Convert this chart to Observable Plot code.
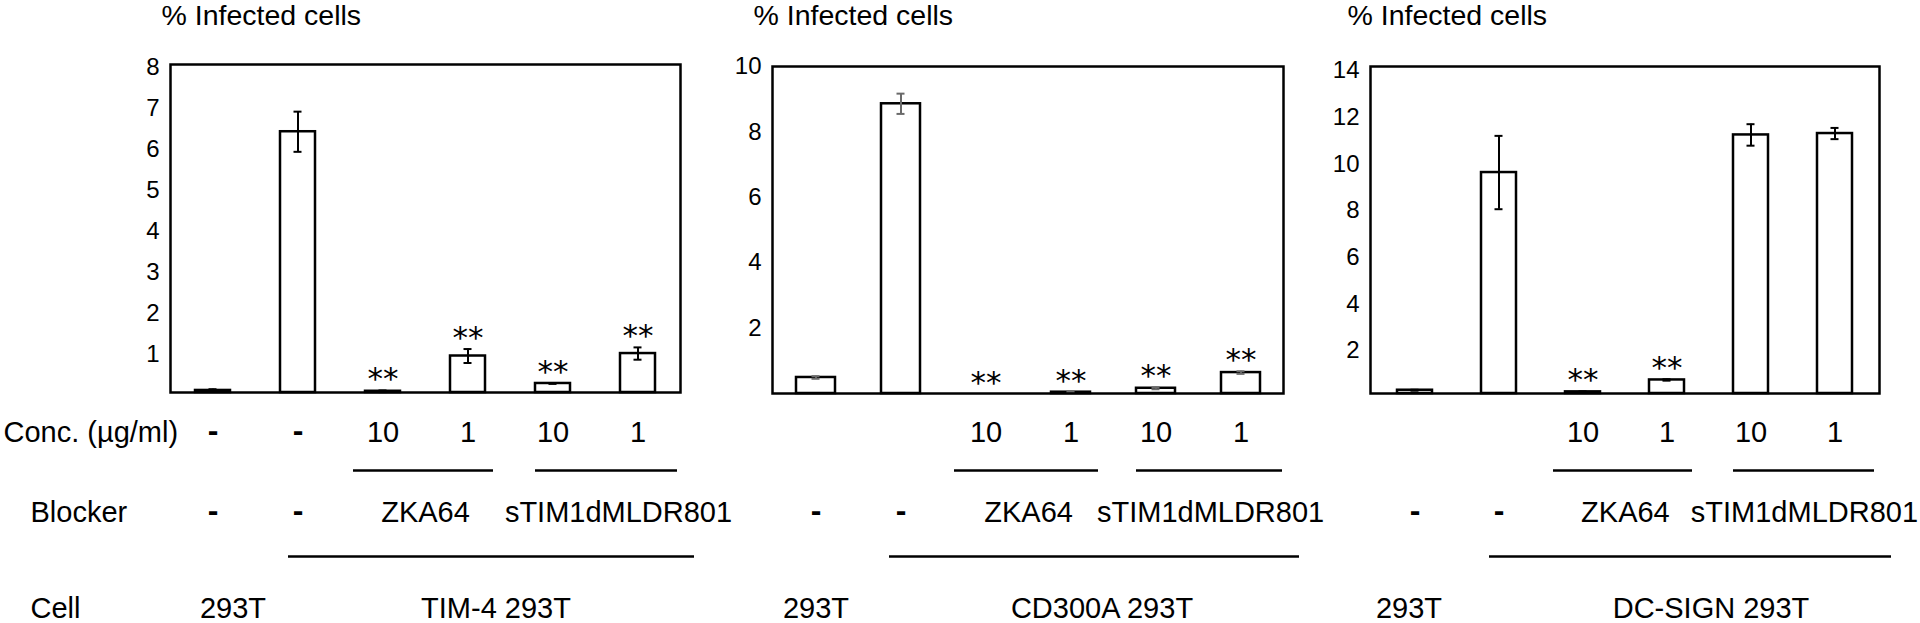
<!DOCTYPE html>
<html>
<head>
<meta charset="utf-8">
<script src="https://cdn.jsdelivr.net/npm/d3@7"></script>
<script src="https://cdn.jsdelivr.net/npm/@observablehq/plot@0.6"></script>
<style>
  html, body { margin: 0; padding: 0; background: #fff; }
  #chart { position: relative; width: 1920px; height: 623px; overflow: hidden; background: #fff; }
  #chart svg { position: absolute; left: 0; top: 0; }
</style>
</head>
<body>
<div id="chart"></div>
<script>
// ---------- DATA ----------
const categories = ["293T", "TIM-4 none", "ZKA64 10", "ZKA64 1", "sTIM1dMLDR801 10", "sTIM1dMLDR801 1"];
const titleText = "% Infected cells";
const rowHeaders = ["Conc. (\u00b5g/ml)", "Blocker", "Cell"];

const concLabelsFirst = ["-", "-", "10", "1", "10", "1"];
const concLabelsOther = ["", "", "10", "1", "10", "1"];
const blockerDashes = ["-", "-", "", "", "", ""];
const blockerGroups = ["ZKA64", "sTIM1dMLDR801"];
const blockerGroupFrom = ["ZKA64 10", "sTIM1dMLDR801 10"];
const blockerGroupTo = ["ZKA64 1", "sTIM1dMLDR801 1"];
const controlCell = "293T";
const cellLines = ["TIM-4 293T", "CD300A 293T", "DC-SIGN 293T"];

const tim4Values   = [0.05, 6.36, 0.03, 0.89, 0.22, 0.95];
const tim4Errors   = [0.03, 0.49, 0.02, 0.17, 0.01, 0.15];
const tim4Stars    = ["", "", "**", "**", "**", "**"];
const tim4Ticks    = [1, 2, 3, 4, 5, 6, 7, 8];

const cd300aValues = [0.49, 8.86, 0, 0.04, 0.16, 0.64];
const cd300aErrors = [0.04, 0.31, 0, 0.02, 0.03, 0.04];
const cd300aStars  = ["", "", "**", "**", "**", "**"];
const cd300aTicks  = [2, 4, 6, 8, 10];

const dcsignValues = [0.14, 9.46, 0.07, 0.58, 11.07, 11.13];
const dcsignErrors = [0.02, 1.57, 0.02, 0.03, 0.46, 0.24];
const dcsignStars  = ["", "", "**", "**", "", ""];
const dcsignTicks  = [2, 4, 6, 8, 10, 12, 14];

const yMaxes = [8, 10, 14];

// ---------- LAYOUT (pixels / styles) ----------
const W = 1920, H = 623;
const FONT = "'Liberation Sans', Arial, Helvetica, sans-serif";
const layouts = [
  {left: 170, right: 680, top: 64, bottom: 392, bw: 35, err: "#000", titleDx: -9, tickDy: 3, stimDx: 23, cellDx: 28, ctrlDx: 20},
  {left: 772, right: 1283, top: 66, bottom: 393, bw: 39, err: "#6a6a6a", titleDx: -19, tickDy: 0, stimDx: 12, cellDx: 31, ctrlDx: 0},
  {left: 1370, right: 1879, top: 66, bottom: 393, bw: 35, err: "#000", titleDx: -23, tickDy: 4, stimDx: 11, cellDx: 44, ctrlDx: -6}
];
const rowY = {title: 15, conc: 432, shortLine: 470, blocker: 512, longLine: 556, cell: 608};
const TXT = 29;

const panels = [
  {values: tim4Values, errors: tim4Errors, stars: tim4Stars, ticks: tim4Ticks, conc: concLabelsFirst, cell: cellLines[0], yMax: yMaxes[0], headers: true},
  {values: cd300aValues, errors: cd300aErrors, stars: cd300aStars, ticks: cd300aTicks, conc: concLabelsOther, cell: cellLines[1], yMax: yMaxes[1], headers: false},
  {values: dcsignValues, errors: dcsignErrors, stars: dcsignStars, ticks: dcsignTicks, conc: concLabelsOther, cell: cellLines[2], yMax: yMaxes[2], headers: false}
];

function makePanel(p, L) {
  const rows = categories.map((c, i) => ({
    cat: c, value: p.values[i], err: p.errors[i], star: p.stars[i], conc: p.conc[i], dash: blockerDashes[i]
  }));
  const groups = blockerGroups.map((g, i) => ({label: g, from: blockerGroupFrom[i], to: blockerGroupTo[i]}));
  const step = (L.right - L.left) / categories.length;
  const pad = 1 - L.bw / step;
  const mid = (L.top + L.bottom) / 2;
  const capInset = (L.bw - 8) / 2;
  const withErr = rows.filter(d => d.err > 0);
  const bottomDy = (y) => y - L.bottom;

  const marks = [
    Plot.axisY({ticks: p.ticks, tickSize: 0, tickPadding: 11, label: null, fontSize: 24, dy: L.tickDy, fill: "#000"}),
    Plot.barY(rows.filter(d => d.value > 0), {x: "cat", y: "value", fill: "white", stroke: "#000", strokeWidth: 2.5}),
    Plot.ruleX(withErr, {x: "cat", y1: d => d.value - d.err, y2: d => d.value + d.err, stroke: L.err, strokeWidth: 2}),
    Plot.tickY(withErr, {x: "cat", y: d => d.value + d.err, stroke: L.err, strokeWidth: 2, insetLeft: capInset, insetRight: capInset}),
    Plot.tickY(withErr, {x: "cat", y: d => d.value - d.err, stroke: L.err, strokeWidth: 2, insetLeft: capInset, insetRight: capInset}),
    Plot.text(rows.filter(d => d.star), {x: "cat", y: d => d.value + d.err, text: "star", lineAnchor: "bottom", dy: -1, fontSize: 31, fontFamily: "'DejaVu Sans', sans-serif", fill: "#000"}),
    Plot.frame({stroke: "#000", strokeWidth: 2.5}),
    // title
    Plot.text([titleText], {frameAnchor: "top-left", text: d => d, textAnchor: "start", lineAnchor: "middle", dx: L.titleDx, dy: rowY.title - L.top, fontSize: 28.5, fill: "#000"}),
    // Conc. row
    Plot.text(rows.filter(d => d.conc === "-"), {x: "cat", text: "conc", frameAnchor: "bottom", lineAnchor: "middle", dy: bottomDy(rowY.conc - 2), fontSize: 32, fontWeight: "bold", fill: "#000"}),
    Plot.text(rows.filter(d => d.conc && d.conc !== "-"), {x: "cat", text: "conc", frameAnchor: "bottom", lineAnchor: "middle", dy: bottomDy(rowY.conc), fontSize: TXT, fill: "#000"}),
    // short lines under conc
    Plot.ruleY(groups, {y: null, x1: "from", x2: "to", dy: rowY.shortLine - mid, stroke: "#000", strokeWidth: 2.5,
      insetLeft: -12, insetRight: -8, filter: d => d.label === blockerGroups[0]}),
    Plot.ruleY(groups, {y: null, x1: "from", x2: "to", dy: rowY.shortLine - mid, stroke: "#000", strokeWidth: 2.5,
      insetLeft: 0, insetRight: -22, filter: d => d.label === blockerGroups[1]}),
    // Blocker row
    Plot.text(rows.filter(d => d.dash), {x: "cat", text: "dash", frameAnchor: "bottom", lineAnchor: "middle", dy: bottomDy(rowY.blocker - 2), fontSize: 32, fontWeight: "bold", fill: "#000"}),
    Plot.text(groups.filter(d => d.label === blockerGroups[0]), {x: "from", text: "label", frameAnchor: "bottom", lineAnchor: "middle", dx: step / 2, dy: bottomDy(rowY.blocker), fontSize: TXT, fill: "#000"}),
    Plot.text(groups.filter(d => d.label === blockerGroups[1]), {x: "from", text: "label", frameAnchor: "bottom", lineAnchor: "middle", dx: step / 2 + L.stimDx, dy: bottomDy(rowY.blocker), fontSize: TXT, fill: "#000"}),
    // long line under blocker
    Plot.ruleY([{from: categories[1], to: categories[5]}], {y: null, x1: "from", x2: "to", dy: rowY.longLine - mid, stroke: "#000", strokeWidth: 2.5, insetLeft: 8, insetRight: -39}),
    // Cell row
    Plot.text([{cat: categories[0], label: controlCell}], {x: "cat", text: "label", frameAnchor: "bottom", lineAnchor: "middle", dx: L.ctrlDx, dy: bottomDy(rowY.cell), fontSize: TXT, fill: "#000"}),
    Plot.text([{cat: categories[3], label: p.cell}], {x: "cat", text: "label", frameAnchor: "bottom", lineAnchor: "middle", dx: L.cellDx, dy: bottomDy(rowY.cell), fontSize: TXT, fill: "#000"})
  ];
  if (p.headers) {
    marks.push(
      Plot.text([rowHeaders[0]], {frameAnchor: "bottom-left", text: d => d, textAnchor: "start", lineAnchor: "middle", dx: 3 - L.left, dy: bottomDy(rowY.conc), fontSize: TXT, fill: "#000"}),
      Plot.text([rowHeaders[1]], {frameAnchor: "bottom-left", text: d => d, textAnchor: "start", lineAnchor: "middle", dx: 30 - L.left, dy: bottomDy(rowY.blocker), fontSize: TXT, fill: "#000"}),
      Plot.text([rowHeaders[2]], {frameAnchor: "bottom-left", text: d => d, textAnchor: "start", lineAnchor: "middle", dx: 30 - L.left, dy: bottomDy(rowY.cell), fontSize: TXT, fill: "#000"})
    );
  }
  return Plot.plot({
    width: W, height: H,
    marginLeft: L.left, marginRight: W - L.right, marginTop: L.top, marginBottom: H - L.bottom,
    style: {background: "transparent", overflow: "visible", fontFamily: FONT, fontSize: "24px", color: "#000"},
    x: {domain: categories, paddingInner: pad, paddingOuter: pad / 2, axis: null},
    y: {domain: [0, p.yMax], axis: null},
    marks
  });
}

const chart = document.getElementById("chart");
panels.forEach((p, i) => chart.appendChild(makePanel(p, layouts[i])));
</script>
</body>
</html>
